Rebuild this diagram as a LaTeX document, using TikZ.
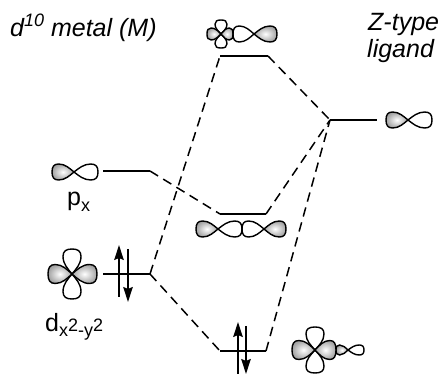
\documentclass[tikz,border=0pt]{standalone}
\usepackage{fontspec}
\setmainfont{Liberation Sans}
\usetikzlibrary{arrows.meta}

\tikzset{
  level/.style={line width=1.6pt},
  link/.style={line width=1.5pt,dash pattern=on 9.5pt off 6pt},
  spinup/.style={-{Stealth[length=15pt,width=9.5pt,inset=2pt]},line width=1.5pt},
  fulllobe/.style={draw,line width=1.4pt,inner color=white,outer color=black!36},
  emptylobe/.style={draw,line width=1.4pt},
  heading/.style={font=\fontsize{25}{28}\selectfont\itshape,align=left,inner sep=0pt},
  orblabel/.style={font=\fontsize{25}{28}\selectfont,inner sep=0pt}
}
% small index text
\newcommand{\idx}[1]{{\fontsize{18}{20}\selectfont #1}}
% one lobe: tip point, angle, length, half width, style
\newcommand{\lobe}[5]{
  \path[#5,shift={(#1)},rotate=#2,xscale=#3,yscale=#4]
    (0,0) .. controls (.2,.45) and (.4,1) .. (.7,1)
    .. controls (.92,1) and (1,.65) .. (1,0)
    .. controls (1,-.65) and (.92,-1) .. (.7,-1)
    .. controls (.4,-1) and (.2,-.45) .. (0,0) -- cycle;
}
% upright pair of lobes of a d orbital: centre, arm length, half width
\newcommand{\dorb}[3]{
  \lobe{#1}{90}{#2}{#3}{emptylobe}
  \lobe{#1}{-90}{#2}{#3}{emptylobe}
}

\begin{document}
\begin{tikzpicture}[x=1pt,y=-1pt]
  \useasboundingbox (0,0) rectangle (440,374);

  % texts
  \node[heading,anchor=base west] (metal) at (10,37)
    {d\raisebox{10pt}{\idx{10}} metal (M)};
  \node[heading,anchor=base west] (ztype) at (368,31) {Z-type};
  \node[heading,anchor=base west] (ligand) at (367,58) {ligand};
  \node[orblabel,anchor=base west] (pxlabel) at (67,206)
    {p\raisebox{-6pt}{\idx{x}}};
  \node[orblabel,anchor=base west] (dlabel) at (45,332)
    {d\raisebox{-5pt}{\idx{x\raisebox{5pt}{2}-y\raisebox{5pt}{2}}}};

  % energy levels
  \coordinate (pxa) at (103,171);   \coordinate (pxb) at (150,171);
  \coordinate (dxa) at (103,274);   \coordinate (dxb) at (150,274);
  \coordinate (topa) at (220,56);   \coordinate (topb) at (268,56);
  \coordinate (mida) at (220,214);  \coordinate (midb) at (266,214);
  \coordinate (lowa) at (220,351);  \coordinate (lowb) at (266,351);
  \coordinate (liga) at (330,120);  \coordinate (ligb) at (377,120);
  \draw[level] (pxa) -- (pxb);
  \draw[level] (dxa) -- (dxb);
  \draw[level] (topa) -- (topb);
  \draw[level] (mida) -- (midb);
  \draw[level] (lowa) -- (lowb);
  \draw[level] (liga) -- (ligb);

  % correlation lines
  \draw[link] (pxb) -- (mida);
  \draw[link] (dxb) -- (topa);
  \draw[link] (dxb) -- (lowa);
  \draw[link] (topb) -- (liga);
  \draw[link] (midb) -- (liga);
  \draw[link] (lowb) -- (liga);

  % electrons
  \coordinate (upa) at (119,297);   \coordinate (upb) at (119,245);
  \coordinate (dna) at (128,249);   \coordinate (dnb) at (128,302);
  \coordinate (upc) at (238,374);   \coordinate (upd) at (238,322);
  \coordinate (dnc) at (246,326);   \coordinate (dnd) at (246,374);
  \draw[spinup] (upa) -- (upb);
  \draw[spinup] (dna) -- (dnb);
  \draw[spinup] (upc) -- (upd);
  \draw[spinup] (dnc) -- (dnd);

  % p_x
  \lobe{74,172}{180}{22}{8}{fulllobe}
  \lobe{74,172}{0}{24}{8}{emptylobe}

  % d_x2-y2
  \dorb{72,274}{25}{9}
  \lobe{72,274}{180}{24}{9.5}{fulllobe}
  \lobe{72,274}{0}{25}{9.5}{fulllobe}

  % top orbital
  \dorb{221,34}{14}{6}
  \lobe{221,34}{180}{14}{6}{fulllobe}
  \lobe{221,34}{0}{12}{6}{fulllobe}
  \lobe{254,34}{180}{21}{8}{emptylobe}
  \lobe{254,34}{0}{23}{8}{fulllobe}

  % middle orbital
  \lobe{218,229}{180}{22}{8}{fulllobe}
  \lobe{218,229}{0}{24}{8}{emptylobe}
  \lobe{264,229}{180}{22}{8}{emptylobe}
  \lobe{264,229}{0}{22}{8}{fulllobe}

  % bottom orbital
  \dorb{315,350}{23}{9}
  \lobe{315,350}{180}{23}{9.5}{fulllobe}
  \lobe{348,350}{180}{12}{5}{fulllobe}
  \lobe{315,350}{0}{21}{9.5}{fulllobe}
  \lobe{348,350}{0}{16}{5}{emptylobe}

  % ligand
  \lobe{408,120}{180}{22}{8}{fulllobe}
  \lobe{408,120}{0}{24}{8}{emptylobe}
\end{tikzpicture}
\end{document}
